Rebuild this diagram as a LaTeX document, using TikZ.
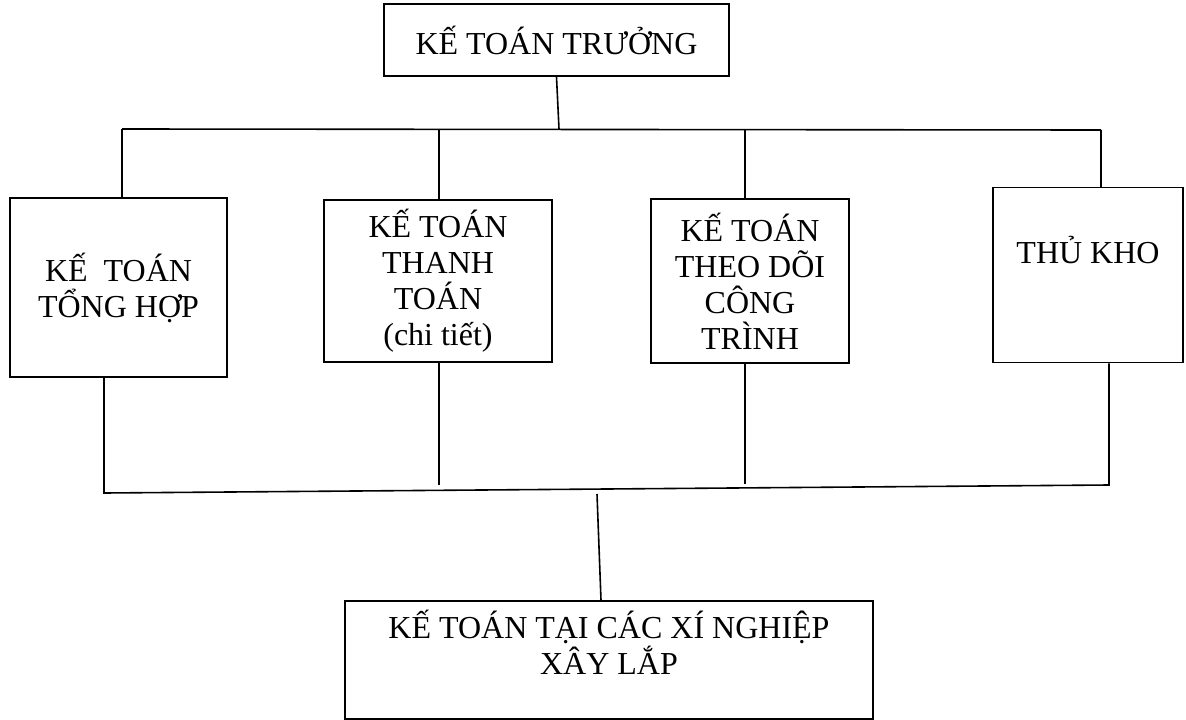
\documentclass[tikz,border=0pt]{standalone}
\usepackage{fontspec}
\setmainfont{Liberation Serif}
\begin{document}
\begin{tikzpicture}[x=1pt,y=-1pt, line width=1.6pt,
  box/.style={draw, inner sep=0pt, align=center, font=\fontsize{32}{36}\selectfont},
  link/.style={line width=1.6pt}]
\useasboundingbox (0,0) rectangle (1186,720);
\node[box, minimum width=345pt, minimum height=72pt] (top) at (556.5,40) {KẾ TOÁN TRƯỞNG};
\node[box, minimum width=217pt, minimum height=179pt] (b1) at (118.5,287.5) {KẾ~~TOÁN\\TỔNG HỢP};
\node[box, minimum width=228pt, minimum height=162pt] (b2) at (438,281) {KẾ TOÁN\\THANH\\TOÁN\\(chi tiết)};
\node[box, minimum width=198pt, minimum height=164pt] (b3) at (750,281) {KẾ TOÁN\\THEO DÕI\\CÔNG\\TRÌNH};
\node[box, minimum width=190pt, minimum height=175pt, text height=25pt, text depth=49pt] (b4) at (1088,275) {THỦ KHO};
\node[box, minimum width=528pt, minimum height=118pt] (bot) at (609,660) {KẾ TOÁN TẠI CÁC XÍ NGHIỆP\\XÂY LẮP\\\mbox{}};
% top bus
\coordinate (tj) at (559,129);
\draw[link] (top.south) -- (tj);
\coordinate (tl) at (122,129);
\coordinate (tr) at (1101,130);
\draw[link] (tl) -- (tr);
\draw[link] (tl) -- (tl |- b1.north);
\coordinate (t2) at (439,129.3);
\draw[link] (t2) -- (t2 |- b2.north);
\coordinate (t3) at (745,129.6);
\draw[link] (t3) -- (t3 |- b3.north);
\draw[link] (tr) -- (tr |- b4.north);
% bottom bus
\coordinate (bl) at (104,493);
\coordinate (br) at (1109,485);
\draw[link] (bl |- b1.south) -- (bl) -- (br) -- (br |- b4.south);
\coordinate (s2) at (439,485);
\draw[link] (s2 |- b2.south) -- (s2);
\coordinate (s3) at (745,484);
\draw[link] (s3 |- b3.south) -- (s3);
\coordinate (bj) at (597,494);
\draw[link] (bj) -- ([xshift=-8pt]bot.north);
\end{tikzpicture}
\end{document}
